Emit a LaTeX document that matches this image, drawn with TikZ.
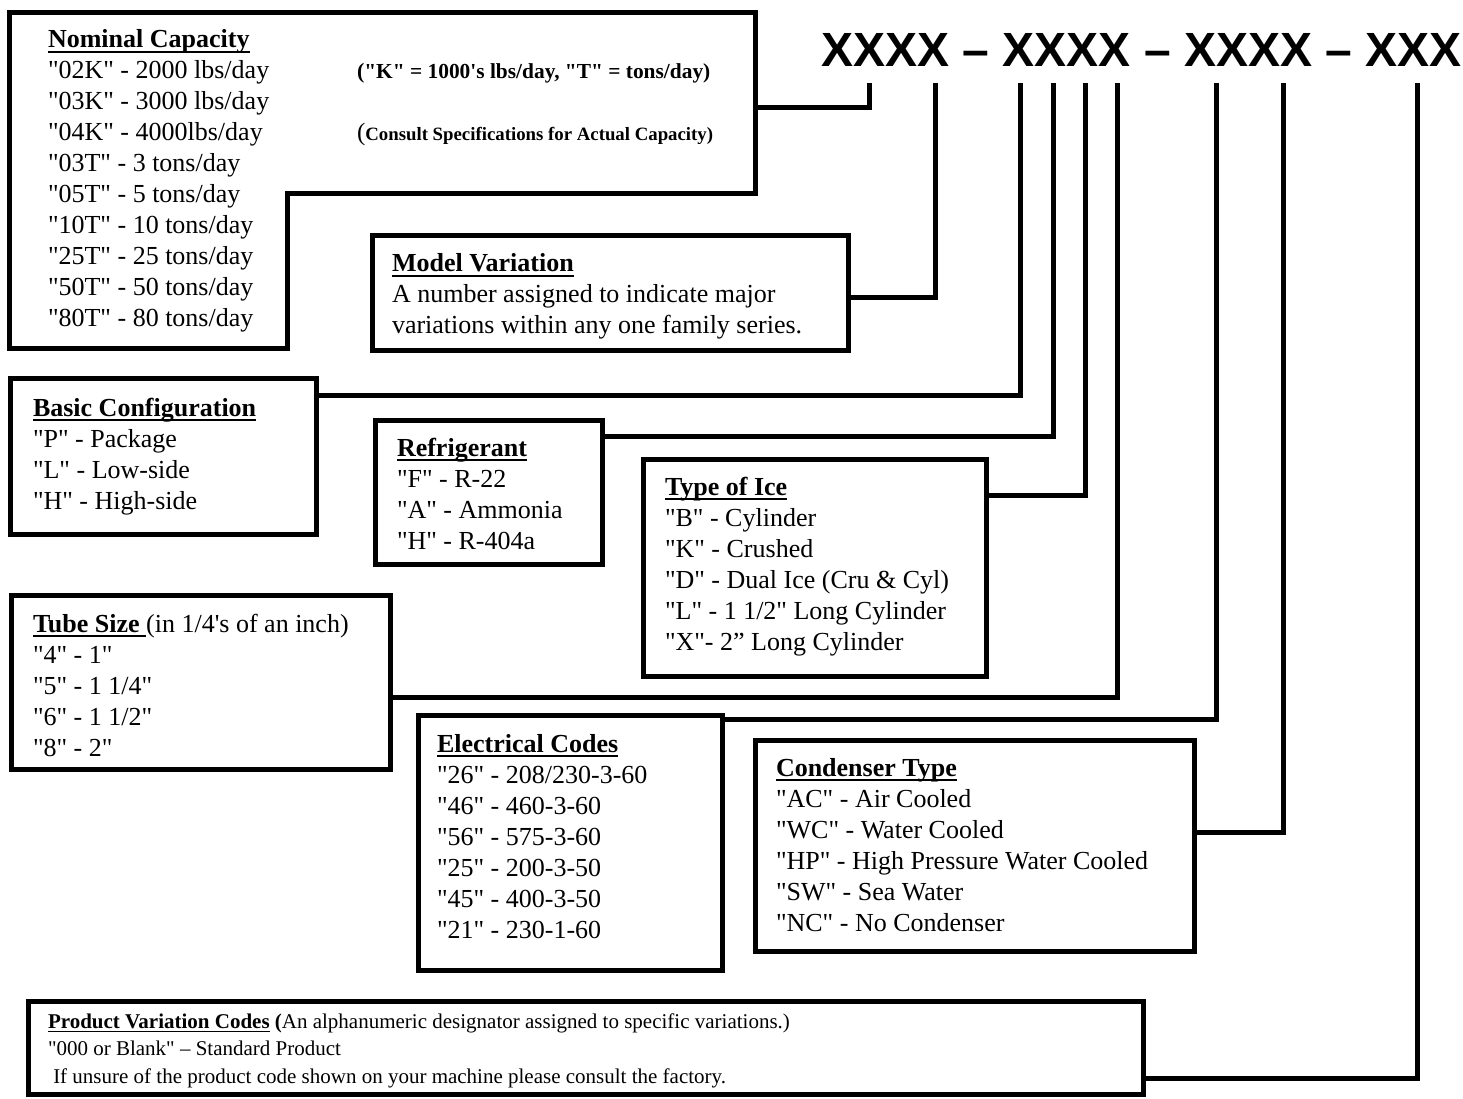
\documentclass[tikz,border=0pt]{standalone}
\usepackage{fontspec}
\setmainfont{Liberation Serif}[Ligatures=TeXOff]
\newfontfamily\bigsans{Liberation Sans}[Ligatures=TeXOff]
\usetikzlibrary{fit}
\newcommand{\hd}[1]{\textbf{\setbox0\hbox{#1}\rlap{\rule[-0.2em]{\wd0}{0.075em}}\box0}}
\newcommand{\lst}[1]{\begin{tabular}[t]{@{}l@{}}#1\end{tabular}}
\tikzset{
  box/.style={draw=black, line width=5pt, fill=white, inner sep=0pt, outer sep=0pt},
  conn/.style={draw=black, line width=5pt, line join=miter},
  txt/.style={anchor=base west, inner sep=0pt, outer sep=0pt, font=\fontsize{26}{31}\selectfont},
  smtxt/.style={anchor=base west, inner sep=0pt, outer sep=0pt, font=\fontsize{21}{27.5}\selectfont},
}
\begin{document}
\begin{tikzpicture}[x=1pt,y=-1pt]
\useasboundingbox[fill=white] (0,0) rectangle (1463,1099);

% code heading
\node[anchor=base west, inner sep=0pt, font=\bigsans\bfseries\fontsize{48}{56}\selectfont] (code) at (821,67) {XXXX – XXXX – XXXX – XXX};

% connector tops
\coordinate (cNom)  at (869,83);
\coordinate (cMV)   at (935,83);
\coordinate (cBC)   at (1020,83);
\coordinate (cRef)  at (1053,83);
\coordinate (cIce)  at (1085,83);
\coordinate (cTube) at (1117,83);
\coordinate (cElec) at (1216,83);
\coordinate (cCond) at (1283,83);
\coordinate (cProd) at (1417,83);

% Nominal capacity (L-shaped box)
\draw[box, line join=miter] (9,13) -- (755,13) -- (755,194) -- (287,194) -- (287,348) -- (9,348) -- cycle;
\coordinate (nomR) at (755,108);

% boxes
\node[box, fit={(372,236)(848,350)}] (mv) {};
\node[box, fit={(10,378)(316,534)}] (bc) {};
\node[box, fit={(375,420)(602,564)}] (ref) {};
\node[box, fit={(643,459)(986,676)}] (ice) {};
\node[box, fit={(11,595)(390,769)}] (tube) {};
\node[box, fit={(418,715)(722,970)}] (elec) {};
\node[box, fit={(755,740)(1194,951)}] (cond) {};
\node[box, fit={(28,1001)(1143,1094)}] (prod) {};

% connectors
\draw[conn] (nomR) -| (cNom);
\draw[conn] (mv.east |- 0,297) -| (cMV);
\draw[conn] (bc.east |- 0,395) -| (cBC);
\draw[conn] (ref.east |- 0,436) -| (cRef);
\draw[conn] (ice.east |- 0,495) -| (cIce);
\draw[conn] (tube.east |- 0,697) -| (cTube);
\draw[conn] (elec.east |- 0,719) -| (cElec);
\draw[conn] (cond.east |- 0,832) -| (cCond);
\draw[conn] (prod.east |- 0,1078) -| (cProd);

% texts
\node[txt] (tNom) at (48,48) {\lst{\hd{Nominal Capacity}\\
"02K" - 2000 lbs/day\\
"03K" - 3000 lbs/day\\
"04K" - 4000lbs/day\\
"03T" - 3 tons/day\\
"05T" - 5 tons/day\\
"10T" - 10 tons/day\\
"25T" - 25 tons/day\\
"50T" - 50 tons/day\\
"80T" - 80 tons/day}};
\node[txt] (tNomA) at (357,79) {{\bfseries\fontsize{22}{26}\selectfont (}{\bfseries\fontsize{21.4}{25}\selectfont "K" = 1000's lbs/day, "T" = tons/day)}};
\node[txt] (tNomB) at (357,141) {{\fontsize{25}{30}\selectfont (}{\bfseries\fontsize{18.8}{22}\selectfont Consult Specifications for Actual Capacity)}};

\node[txt] (tMV) at (392,272) {\lst{\hd{Model Variation}\\
A number assigned to indicate major\\
variations within any one family series.}};

\node[txt] (tBC) at (33,416) {\lst{\hd{Basic Configuration}\\
"P" - Package\\
"L" - Low-side\\
"H" - High-side}};

\node[txt] (tRef) at (397,456) {\lst{\hd{Refrigerant}\\
"F" - R-22\\
"A" - Ammonia\\
"H" - R-404a}};

\node[txt] (tIce) at (665,495) {\lst{\hd{Type of Ice}\\
"B" - Cylinder\\
"K" - Crushed\\
"D" - Dual Ice (Cru \& Cyl)\\
"L" - 1 1/2" Long Cylinder\\
"X"- 2” Long Cylinder}};

\node[txt] (tTube) at (33,632) {\lst{\hd{Tube Size\ }(in 1/4's of an inch)\\
"4" - 1"\\
"5" - 1 1/4"\\
"6" - 1 1/2"\\
"8" - 2"}};

\node[txt] (tElec) at (437,752) {\lst{\hd{Electrical Codes}\\
"26" - 208/230-3-60\\
"46" - 460-3-60\\
"56" - 575-3-60\\
"25" - 200-3-50\\
"45" - 400-3-50\\
"21" - 230-1-60}};

\node[txt] (tCond) at (776,776) {\lst{\hd{Condenser Type}\\
"AC" - Air Cooled\\
"WC" - Water Cooled\\
"HP" - High Pressure Water Cooled\\
"SW" - Sea Water\\
"NC" - No Condenser}};

\node[smtxt] (tProd) at (48,1028) {\lst{\hd{Product Variation Codes} \textbf{(}An alphanumeric designator assigned to specific variations.)\\
"000 or Blank" – Standard Product\\
\ If unsure of the product code shown on your machine please consult the factory.}};
\end{tikzpicture}
\end{document}
